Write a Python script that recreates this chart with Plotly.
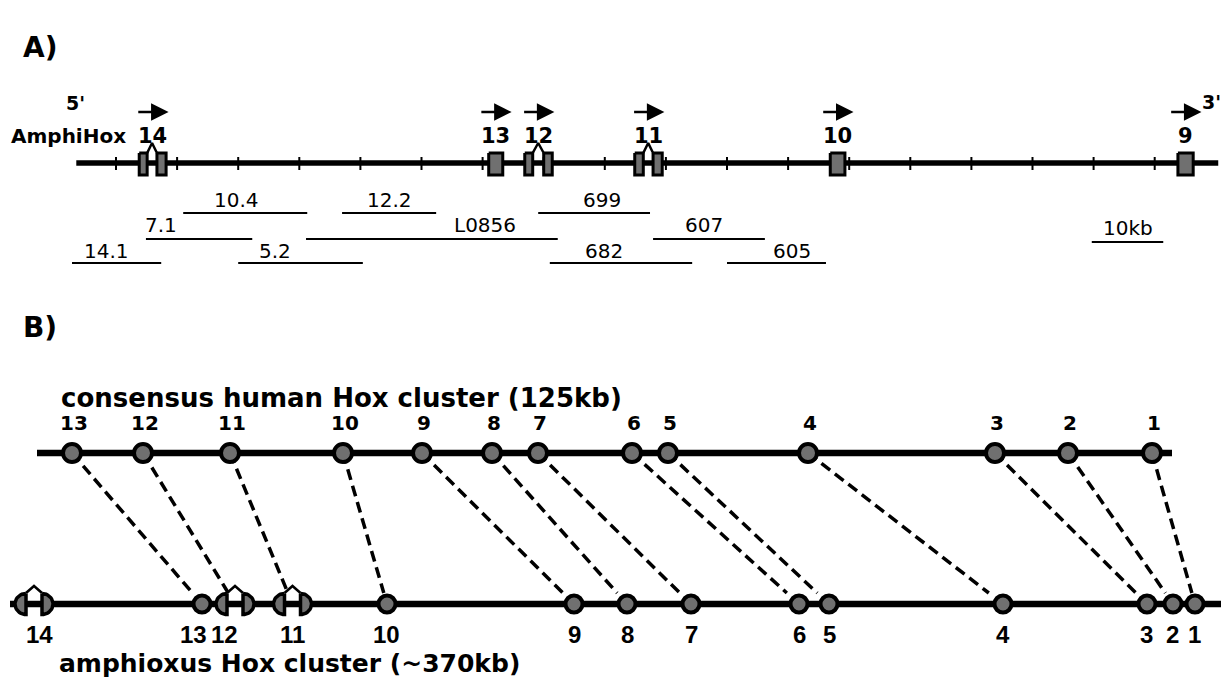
import numpy as np
import plotly.graph_objects as go

# ---------------- Panel A data (kb along the AmphiHox contig) ----------------
a_genes = ["14", "13", "12", "11", "10", "9"]
a_exon_start = [[3.8, 6.7], [61.0], [66.9, 70.0], [84.9, 87.9], [116.9], [173.8]]
a_exon_end = [[5.1, 8.2], [63.3], [68.2, 71.4], [86.3, 89.4], [119.3], [176.3]]
a_line_extent = [-6.5, 180.4]
a_ticks = list(range(0, 171, 10))
arrow_len_kb = 5.2

clone_names = ["10.4", "12.2", "699", "7.1", "L0856", "607", "14.1", "5.2", "682", "605"]
clone_start = [11.0, 37.0, 69.1, 4.9, 31.1, 87.9, -7.2, 20.0, 71.0, 100.0]
clone_end = [31.3, 52.4, 87.4, 22.3, 72.3, 106.2, 7.4, 40.4, 94.3, 116.2]
clone_row = [0, 0, 0, 1, 1, 1, 2, 2, 2, 2]
clone_label_x = [19.8, 44.8, 79.5, 7.4, 60.4, 96.2, -1.5, 26.0, 79.9, 110.6]
scale_bar_kb = [159.7, 171.4]
scale_bar_label = "10kb"

# ---------------- Panel B data (schematic positions) ----------------
human_genes = ["1", "2", "3", "4", "5", "6", "7", "8", "9", "10", "11", "12", "13"]
human_pos = [1152, 1068, 995, 808, 668, 632, 538, 492, 422, 343, 230, 143, 72]
human_extent = [37, 1172]
amph_genes = ["1", "2", "3", "4", "5", "6", "7", "8", "9", "10", "11", "12", "13", "14"]
amph_pos = [1195, 1173, 1147, 1003, 829, 799, 691, 627, 574, 387, 292.5, 235, 202, 34]
amph_label_pos = [1194, 1172, 1146, 1003, 829, 799, 691, 627, 574, 386, 292, 224, 193, 39]
amph_split = ["11", "12", "14"]
amph_extent = [10, 1221]

# ---------------- layout constants (pixels, y axis) ----------------
YA_LINE, YA_BOX_T, YA_BOX_B, YA_PEAK, YA_ARROW, YA_LABEL = 163, 153, 175, 143, 112, 135.5
CLONE_Y = [213, 239, 263]
CLONE_LBL_Y = [199.5, 225, 251]
YH, YAM = 453, 604

PX_PER_KB = 6.11
A_X0 = -116 / PX_PER_KB
A_X1 = A_X0 + 1221 / PX_PER_KB

BOLD = "DejaVu Sans"
GRAY = "#707070"

fig = go.Figure()


def seg_trace(xs, ys, width, xaxis="x", dash=None):
    return go.Scatter(x=xs, y=ys, mode="lines", xaxis=xaxis, yaxis="y",
                      line=dict(color="black", width=width, dash=dash),
                      hoverinfo="skip", connectgaps=False)


# ---- Panel A ----
fig.add_trace(seg_trace(a_line_extent, [YA_LINE, YA_LINE], 5.5))
tx, ty = [], []
for t in a_ticks:
    tx += [t, t, None]
    ty += [YA_LINE - 6, YA_LINE + 7, None]
fig.add_trace(seg_trace(tx, ty, 2))

bx, by, cx, cy = [], [], [], []
for s_list, e_list in zip(a_exon_start, a_exon_end):
    for s, e in zip(s_list, e_list):
        bx += [s, e, e, s, s, None]
        by += [YA_BOX_T, YA_BOX_T, YA_BOX_B, YA_BOX_B, YA_BOX_T, None]
    if len(s_list) == 2:
        m = (e_list[0] + s_list[1]) / 2
        cx += [e_list[0], m, s_list[1], None]
        cy += [YA_BOX_T, YA_PEAK, YA_BOX_T, None]
fig.add_trace(go.Scatter(x=bx, y=by, mode="lines", fill="toself", fillcolor=GRAY,
                         line=dict(color="black", width=3), hoverinfo="skip"))
fig.add_trace(seg_trace(cx, cy, 2.5))

kx, ky = [], []
for s, e, r in zip(clone_start, clone_end, clone_row):
    kx += [s, e, None]
    ky += [CLONE_Y[r], CLONE_Y[r], None]
kx += [scale_bar_kb[0], scale_bar_kb[1], None]
ky += [242, 242, None]
fig.add_trace(seg_trace(kx, ky, 2))

annotations = []


def txt(x, y, s, size, bold=False, xref="x", xanchor="center", family=None):
    annotations.append(dict(
        x=x, y=y, xref=xref, yref="y", text=f"<b>{s}</b>" if bold else s,
        showarrow=False, xanchor=xanchor, yanchor="middle",
        font=dict(family=family or BOLD, size=size, color="black")))


for g, s_list, e_list in zip(a_genes, a_exon_start, a_exon_end):
    c = (s_list[0] + e_list[-1]) / 2
    txt(c, YA_LABEL, g, 21, bold=True)
    annotations.append(dict(
        x=c + arrow_len_kb / 2, y=YA_ARROW, ax=c - arrow_len_kb / 2, ay=YA_ARROW,
        xref="x", yref="y", axref="x", ayref="y", text="", showarrow=True,
        arrowhead=2, arrowsize=1.4, arrowwidth=2.5, arrowcolor="black", standoff=0))

for name, lx, r in zip(clone_names, clone_label_x, clone_row):
    txt(lx, CLONE_LBL_Y[r], name, 20)
txt(sum(scale_bar_kb) / 2, 228, scale_bar_label, 20)

# label texts (panel B axis is in pixel-like units)
txt(128, YA_LABEL, "AmphiHox", 20, bold=True, xref="x2", xanchor="right")
txt(75, 103, "5'", 19, bold=True, xref="x2")
txt(1211, 102, "3'", 19, bold=True, xref="x2")
txt(40, 47, "A)", 28, bold=True, xref="x2")
txt(40, 327, "B)", 28, bold=True, xref="x2")

# ---- Panel B ----
t_frac = (593 - YH) / (YAM - YH)
dx, dy = [], []
for g, h in zip(human_genes, human_pos):
    a = amph_pos[amph_genes.index(g)]
    dx += [h, h + (a - h) * t_frac, None]
    dy += [YH, 593, None]
fig.add_trace(seg_trace(dx, dy, 3.5, xaxis="x2", dash="11px,6px"))

fig.add_trace(seg_trace(human_extent, [YH, YH], 6.5, xaxis="x2"))
fig.add_trace(seg_trace(amph_extent, [YAM, YAM], 6.5, xaxis="x2"))

fig.add_trace(go.Scatter(x=human_pos, y=[YH] * len(human_pos), mode="markers", xaxis="x2",
                         marker=dict(size=18, color=GRAY, line=dict(color="black", width=4)),
                         hoverinfo="skip"))
solid = [p for g, p in zip(amph_genes, amph_pos) if g not in amph_split]
fig.add_trace(go.Scatter(x=solid, y=[YAM] * len(solid), mode="markers", xaxis="x2",
                         marker=dict(size=17, color=GRAY, line=dict(color="black", width=4)),
                         hoverinfo="skip"))

hx, hy, px_, py_ = [], [], [], []
th = np.linspace(-np.pi / 2, np.pi / 2, 25)
for g, p in zip(amph_genes, amph_pos):
    if g in amph_split:
        for side in (-1, 1):
            x0 = p + side * 8
            xs = list(x0 + side * 11 * np.cos(th)) + [x0]
            ys = list(YAM + 10.5 * np.sin(th)) + [YAM - 10.5]
            hx += xs + [None]
            hy += ys + [None]
        px_ += [p - 8, p, p + 8, None]
        py_ += [YAM - 11, YAM - 18, YAM - 11, None]
fig.add_trace(go.Scatter(x=hx, y=hy, mode="lines", xaxis="x2", fill="toself", fillcolor=GRAY,
                         line=dict(color="black", width=3.5), hoverinfo="skip"))
fig.add_trace(seg_trace(px_, py_, 2.5, xaxis="x2"))

for g, h in zip(human_genes, human_pos):
    txt(h + 2, 423, g, 20, bold=True, xref="x2")
for g, p in zip(amph_genes, amph_label_pos):
    txt(p, 634, g, 24, bold=True, xref="x2", family="Liberation Sans")

txt(59, 398, "consensus human Hox cluster (125kb)", 26, bold=True, xref="x2", xanchor="left")
txt(57, 663, "amphioxus Hox cluster (~370kb)", 25, bold=True, xref="x2", xanchor="left")

fig.update_layout(
    width=1221, height=681, margin=dict(l=0, r=0, t=0, b=0),
    paper_bgcolor="white", plot_bgcolor="white", showlegend=False,
    xaxis=dict(range=[A_X0, A_X1], visible=False, fixedrange=True),
    xaxis2=dict(range=[0, 1221], visible=False, overlaying="x", anchor="y", fixedrange=True),
    yaxis=dict(range=[681, 0], visible=False, fixedrange=True),
    annotations=annotations,
)

fig.write_html("out.html", config={"displayModeBar": False},
               post_script="document.body.style.margin='0';document.body.style.overflow='hidden';")
